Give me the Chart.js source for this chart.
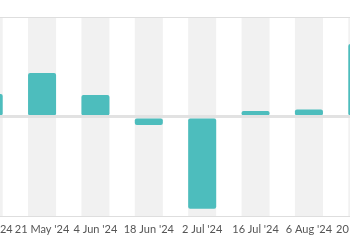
<!DOCTYPE html>
<html>
<head>
<meta charset="utf-8">
<script src="https://cdn.jsdelivr.net/npm/chart.js@4"></script>
<style>
  html, body { margin: 0; padding: 0; width: 350px; height: 250px; overflow: hidden; background: #fff; }
  /* the chart is wider than the window and shifted left, so the first and last bars are cut off */
  #wrap { position: absolute; left: -48px; top: 0; width: 447px; height: 250px; }
</style>
</head>
<body>
<div id="wrap"><canvas id="myChart"></canvas></div>
<script>
// Dados do gráfico
const labels = ["7 May '24", "21 May '24", "4 Jun '24", "18 Jun '24", "2 Jul '24", "16 Jul '24", "6 Aug '24", "20 Aug '24"];
const values = [23, 44, 22, -8, -92, 6, 7.5, 73];
const yMin = -100;
const yMax = 100;

// faixas cinzas atrás de cada barra (de cima a baixo)
const bands = labels.map(() => [yMin, yMax]);

const data = {
    labels: labels,
    datasets: [
        {
            label: 'Valor',
            data: values,
            backgroundColor: '#4dbdbd',
            borderRadius: 2,
            borderSkipped: false,
            grouped: false,
            order: 1
        },
        {
            label: 'Fundo',
            data: bands,
            backgroundColor: '#f1f1f1',
            grouped: false,
            order: 2
        }
    ]
};

// Configurações do gráfico
const config = {
    type: 'bar',
    data: data,
    options: {
        responsive: true,
        maintainAspectRatio: false,
        animation: false,
        layout: { padding: { left: 10, right: 10, top: 17, bottom: 8 } },
        datasets: {
            bar: { barPercentage: 1, categoryPercentage: 0.525 }
        },
        plugins: {
            legend: { display: false },
            tooltip: { enabled: false }
        },
        scales: {
            x: {
                offset: true,
                grid: { display: false, drawTicks: false },
                border: { display: false },
                ticks: {
                    autoSkip: false,
                    maxRotation: 0,
                    padding: 6,
                    color: '#555',
                    font: { family: 'Lato', size: 11 }
                }
            },
            y: {
                min: yMin,
                max: yMax,
                border: { display: false },
                grid: {
                    z: 1,
                    drawTicks: false,
                    color: (ctx) => ctx.tick && ctx.tick.value === 0 ? '#e2e2e2' : '#dedede',
                    lineWidth: (ctx) => ctx.tick && ctx.tick.value === 0 ? 3 : 1
                },
                ticks: { display: false, stepSize: 100 }
            }
        }
    }
};

// Renderizar o gráfico
const myChart = new Chart(document.getElementById('myChart'), config);
</script>
</body>
</html>
